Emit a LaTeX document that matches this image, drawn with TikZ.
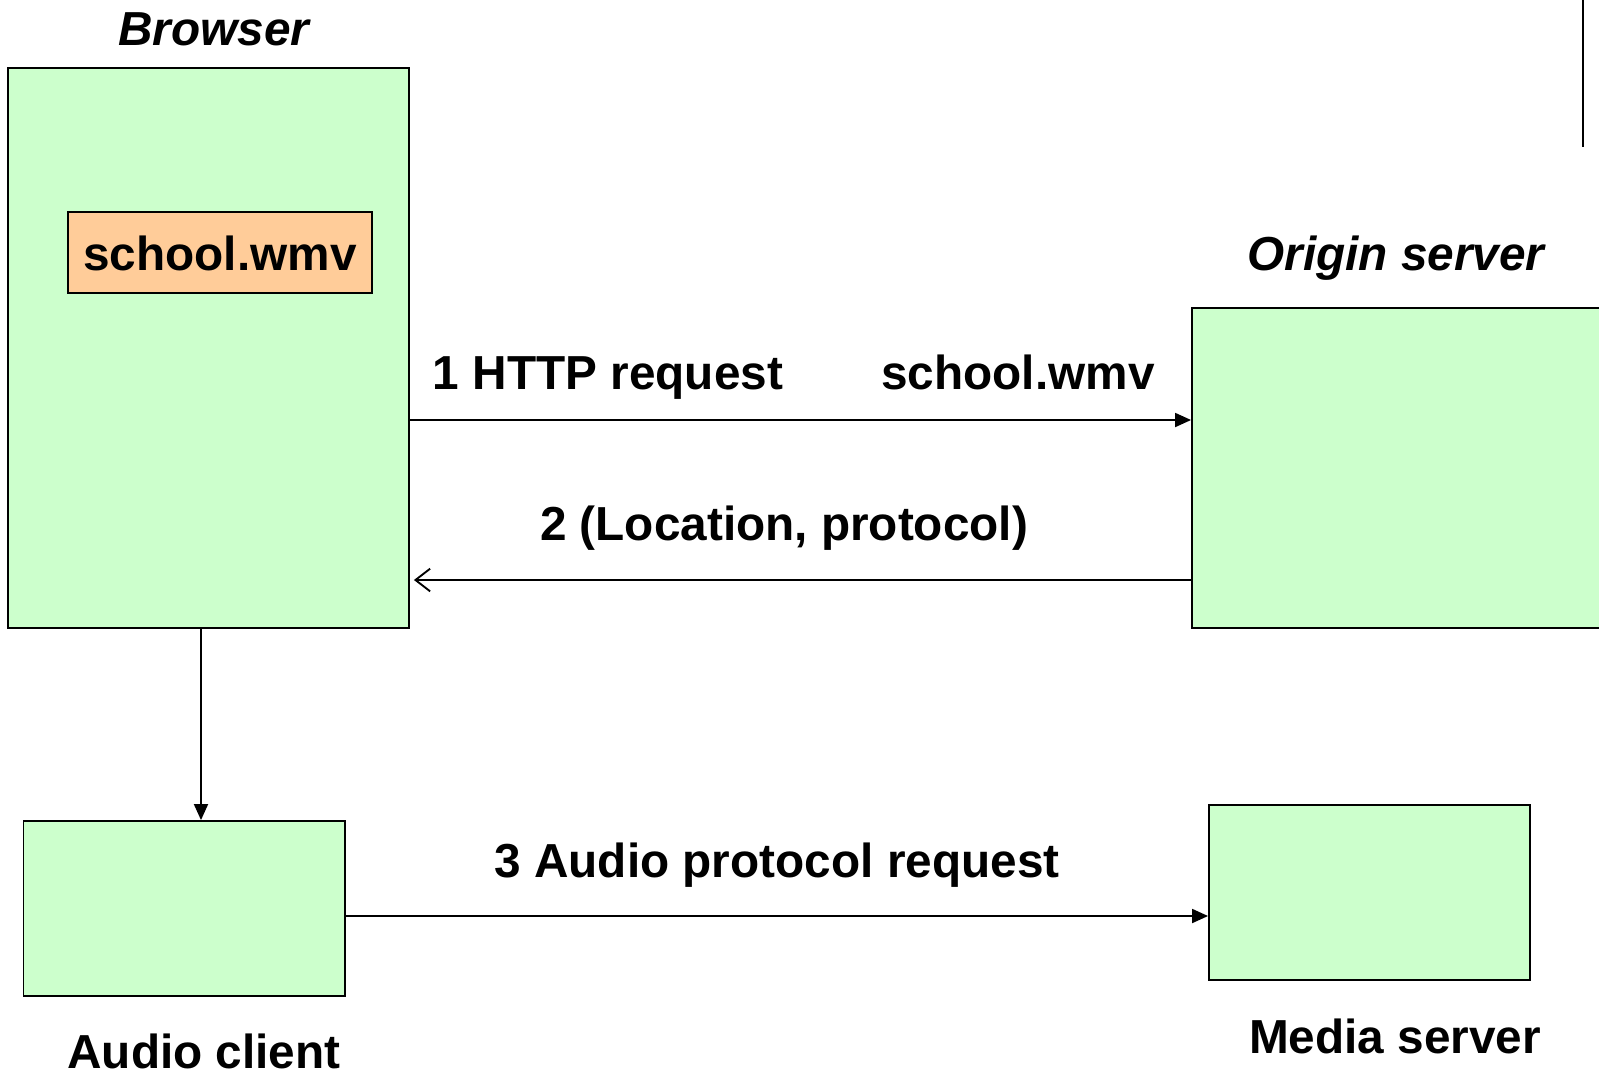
\documentclass[tikz,border=0pt]{standalone}
\usepackage{fontspec}
\setmainfont{Liberation Sans}
\usetikzlibrary{arrows.meta,fit}
\definecolor{boxgreen}{HTML}{CCFFCC}
\definecolor{fileorange}{HTML}{FFCC99}
\begin{document}
\begin{tikzpicture}[x=0.75pt,y=-0.75pt,
  box/.style={draw=black, fill=boxgreen, line width=1.4pt, inner sep=0pt},
  filebox/.style={draw=black, fill=fileorange, line width=1.4pt, inner sep=0pt},
  lbl/.style={font=\fontsize{35.8}{43}\selectfont\bfseries, inner sep=0pt, anchor=base},
  ilbl/.style={font=\fontsize{35.8}{43}\selectfont\bfseries\itshape, inner sep=0pt, anchor=base},
  conn/.style={line width=1.4pt, -{Triangle[length=12pt,width=10.5pt]}},
  backconn/.style={line width=1.4pt, -{Straight Barb[length=11pt,width=17pt,line width=1.4pt]}, shorten >=3pt},
  plain/.style={line width=1.4pt}]
\useasboundingbox (0,0) rectangle (1599,1075);
% boxes
\node[box, fit={(8,68) (409,628)}] (browser) {};
\node[filebox, fit={(68,212) (372,293)}] (file) {};
\node[box, fit={(1192,308) (1640,628)}] (origin) {};
\node[box, fit={(23.5,821) (345,996)}] (audio) {};
\node[box, fit={(1209,805) (1530,980)}] (media) {};
% texts
\node[ilbl] (tbrowser) at (214,45) {Browser};
\node[lbl] (tfile) at (220,270) {school.wmv};
\node[ilbl] (torigin) at (1396,270) {Origin server};
\node[lbl] (thttp) at (608,389) {1 HTTP request};
\node[lbl] (tfile2) at (1018,389) {school.wmv};
\node[lbl] (tloc) at (784,540) {2 (Location, protocol)};
\node[lbl] (taud) at (777,877) {3 Audio protocol request};
\node[lbl] (taudio) at (204,1068) {Audio client};
\node[lbl] (tmedia) at (1395,1053) {Media server};
% helper coordinates
\coordinate (y1) at (0,420);
\coordinate (y2) at (0,580);
\coordinate (y3) at (0,916);
\coordinate (xv) at (201,0);
\coordinate (lt) at (1583,0);
\coordinate (lb) at (1583,147);
% connectors
\draw[conn] (browser.east |- y1) -- (origin.west |- y1);
\draw[backconn] (origin.west |- y2) -- (browser.east |- y2);
\draw[conn] (browser.south -| xv) -- (audio.north -| xv);
\draw[conn] (audio.east |- y3) -- (media.west |- y3);
\draw[plain] (lt) -- (lb);
\end{tikzpicture}
\end{document}
